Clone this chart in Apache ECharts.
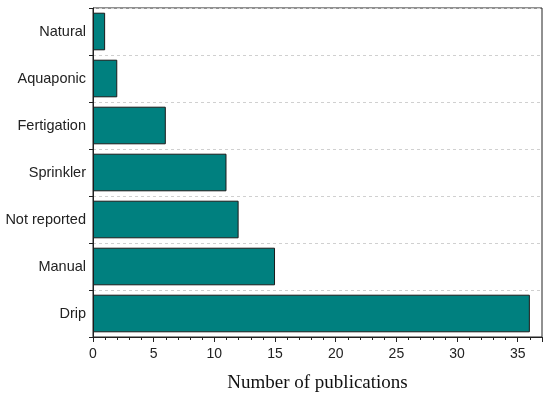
<!DOCTYPE html>
<html>
<head>
<meta charset="utf-8">
<script src="https://cdn.jsdelivr.net/npm/echarts@6/dist/echarts.min.js"></script>
<style>html,body{margin:0;padding:0;background:#fff}#c{width:550px;height:401px}</style>
</head>
<body>
<div id="c"></div>
<script>
const categories = ['Drip', 'Manual', 'Not reported', 'Sprinkler', 'Fertigation', 'Aquaponic', 'Natural'];
const publications = [36, 15, 12, 11, 6, 2, 1];
const xTicks = [0, 5, 10, 15, 20, 25, 30, 35];

const chart = echarts.init(document.getElementById('c'), null, {renderer: 'canvas'});
chart.setOption({
  animation: false,
  backgroundColor: '#fff',
  grid: {left: 93, right: 8, top: 8, bottom: 64, show: true, borderColor: '#222', borderWidth: 1, backgroundColor: 'transparent'},
  xAxis: {
    type: 'value', min: 0, max: 37, interval: 5,
    name: 'Number of publications', nameLocation: 'middle', nameGap: 37,
    nameTextStyle: {fontFamily: 'Liberation Serif, DejaVu Serif, serif', fontSize: 19, color: '#111'},
    axisLine: {show: true, lineStyle: {color: '#222'}},
    axisTick: {show: true, length: 5, lineStyle: {color: '#222'}},
    minorTick: {show: true, splitNumber: 5, length: 3, lineStyle: {color: '#222'}},
    splitLine: {show: false},
    axisLabel: {showMaxLabel: false, fontFamily: 'Liberation Sans, Arial, sans-serif', fontSize: 14, color: '#222', margin: 10,
      formatter: v => xTicks.includes(v) ? String(v) : ''}
  },
  yAxis: {
    type: 'category', data: categories,
    axisLine: {show: true, lineStyle: {color: '#222'}},
    axisTick: {show: true, length: 4, lineStyle: {color: '#222'}},
    splitLine: {show: true, lineStyle: {color: '#d0d0d0', type: [3, 3]}},
    axisLabel: {fontFamily: 'Liberation Sans, Arial, sans-serif', fontSize: 14.5, color: '#222', margin: 7}
  },
  series: [{
    type: 'bar', data: publications, barCategoryGap: '20%',
    itemStyle: {color: '#00807f', borderColor: '#1a1a1a', borderWidth: 1}
  }]
});
</script>
</body>
</html>
